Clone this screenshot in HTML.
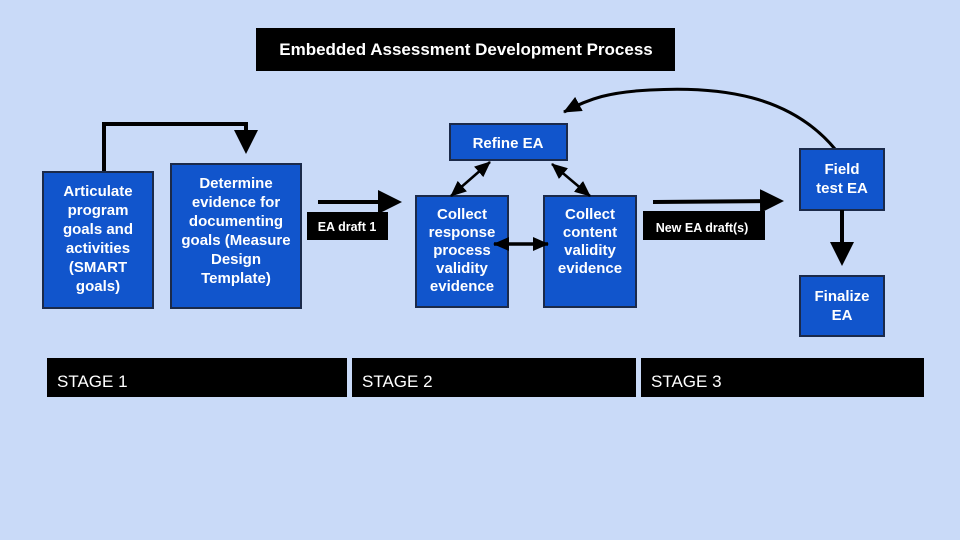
<!DOCTYPE html>
<html><head><meta charset="utf-8"><style>
html,body{margin:0;padding:0;background:#c9daf8;}
svg{display:block;font-family:"Liberation Sans",Arial,sans-serif;}
.b{fill:#1155cc;stroke:#1b2a4a;stroke-width:2;}
.t{fill:#fff;font-weight:bold;font-size:15px;text-anchor:middle;}
.k{fill:#000;}
</style></head><body>
<svg width="960" height="540" viewBox="0 0 960 540">
<defs>
<marker id="a" markerWidth="6" markerHeight="6" refX="5" refY="3" orient="auto" markerUnits="strokeWidth"><path d="M0,0L6,3L0,6z" fill="#000"/></marker>
<marker id="s" markerWidth="16" markerHeight="14" refX="15" refY="7" orient="auto-start-reverse" markerUnits="userSpaceOnUse"><path d="M0,0L16,7L0,14z" fill="#000"/></marker>
<marker id="c" markerWidth="18" markerHeight="16" refX="17" refY="8" orient="auto" markerUnits="userSpaceOnUse"><path d="M0,0L18,8L0,16z" fill="#000"/></marker>
</defs>
<rect width="960" height="540" fill="#c9daf8"/>
<rect class="k" x="256" y="28" width="419" height="43"/>
<text x="466" y="55" fill="#fff" font-weight="bold" font-size="17" text-anchor="middle">Embedded Assessment Development Process</text>

<polyline points="104,172 104,124 246,124 246,150" fill="none" stroke="#000" stroke-width="4" marker-end="url(#a)"/>

<rect class="b" x="43" y="172" width="110" height="136"/>
<text class="t" x="98" y="196">Articulate</text><text class="t" x="98" y="215">program</text><text class="t" x="98" y="234">goals and</text><text class="t" x="98" y="253">activities</text><text class="t" x="98" y="272">(SMART</text><text class="t" x="98" y="291">goals)</text>

<rect class="b" x="171" y="164" width="130" height="144"/>
<text class="t" x="236" y="188">Determine</text><text class="t" x="236" y="207">evidence for</text><text class="t" x="236" y="226">documenting</text><text class="t" x="236" y="245">goals (Measure</text><text class="t" x="236" y="264">Design</text><text class="t" x="236" y="283">Template)</text>

<line x1="318" y1="202" x2="398" y2="202" stroke="#000" stroke-width="4" marker-end="url(#a)"/>
<rect class="k" x="307" y="212" width="81" height="28"/>
<text x="347" y="231" fill="#fff" font-weight="bold" font-size="12.5" text-anchor="middle">EA draft 1</text>

<rect class="b" x="450" y="124" width="117" height="36"/>
<text class="t" x="508" y="148">Refine EA</text>

<rect class="b" x="416" y="196" width="92" height="111"/>
<text class="t" x="462" y="219">Collect</text><text class="t" x="462" y="237">response</text><text class="t" x="462" y="255">process</text><text class="t" x="462" y="273">validity</text><text class="t" x="462" y="291">evidence</text>

<rect class="b" x="544" y="196" width="92" height="111"/>
<text class="t" x="590" y="219">Collect</text><text class="t" x="590" y="237">content</text><text class="t" x="590" y="255">validity</text><text class="t" x="590" y="273">evidence</text>

<line x1="451" y1="196" x2="490" y2="162" stroke="#000" stroke-width="2.5" marker-start="url(#s)" marker-end="url(#s)"/>
<line x1="552" y1="164" x2="590" y2="196" stroke="#000" stroke-width="2.5" marker-start="url(#s)" marker-end="url(#s)"/>
<line x1="494" y1="244" x2="548" y2="244" stroke="#000" stroke-width="3.5" marker-start="url(#s)" marker-end="url(#s)"/>

<line x1="653" y1="202" x2="780" y2="201" stroke="#000" stroke-width="4" marker-end="url(#a)"/>
<rect class="k" x="643" y="211" width="122" height="29"/>
<text x="702" y="232" fill="#fff" font-weight="bold" font-size="12.5" text-anchor="middle">New EA draft(s)</text>

<path d="M835,149 C790,95 720,86 650,90 C610,92 590,98 564,112" fill="none" stroke="#000" stroke-width="3" marker-end="url(#c)"/>

<rect class="b" x="800" y="149" width="84" height="61"/>
<text class="t" x="842" y="174">Field</text><text class="t" x="842" y="193">test EA</text>
<line x1="842" y1="210" x2="842" y2="262" stroke="#000" stroke-width="4" marker-end="url(#a)"/>
<rect class="b" x="800" y="276" width="84" height="60"/>
<text class="t" x="842" y="301">Finalize</text><text class="t" x="842" y="320">EA</text>

<rect class="k" x="47" y="358" width="300" height="39"/>
<text x="57" y="387" fill="#fff" font-size="17">STAGE 1</text>
<rect class="k" x="352" y="358" width="284" height="39"/>
<text x="362" y="387" fill="#fff" font-size="17">STAGE 2</text>
<rect class="k" x="641" y="358" width="283" height="39"/>
<text x="651" y="387" fill="#fff" font-size="17">STAGE 3</text>
</svg>
</body></html>
